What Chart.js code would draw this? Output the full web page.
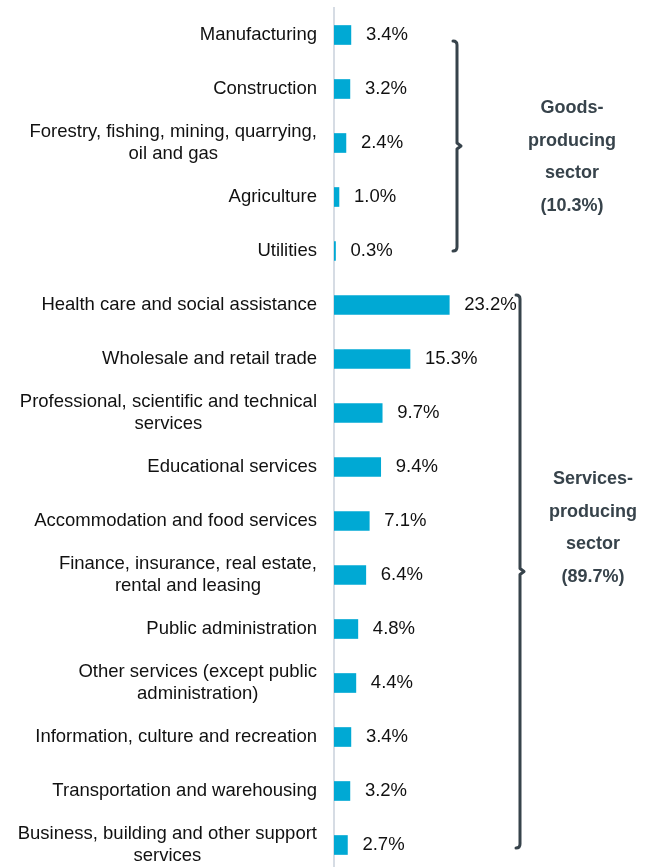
<!DOCTYPE html>
<html>
<head>
<meta charset="utf-8">
<script src="https://cdn.jsdelivr.net/npm/chart.js@4"></script>
<style>
  html, body { margin: 0; padding: 0; background: #ffffff; overflow: hidden; }
  #wrap { position: relative; width: 652px; height: 872px; }
</style>
</head>
<body>
<div id="wrap"><canvas id="chart"></canvas></div>
<script>
// Industry categories (multi-line names are split into their display lines)
const industries = [
  ['Manufacturing'],
  ['Construction'],
  ['Forestry, fishing, mining, quarrying,', 'oil and gas'],
  ['Agriculture'],
  ['Utilities'],
  ['Health care and social assistance'],
  ['Wholesale and retail trade'],
  ['Professional, scientific and technical', 'services'],
  ['Educational services'],
  ['Accommodation and food services'],
  ['Finance, insurance, real estate,', 'rental and leasing'],
  ['Public administration'],
  ['Other services (except public', 'administration)'],
  ['Information, culture and recreation'],
  ['Transportation and warehousing'],
  ['Business, building and other support', 'services']
];

// Share of employment, percent
const shares = [3.4, 3.2, 2.4, 1.0, 0.3, 23.2, 15.3, 9.7, 9.4, 7.1, 6.4, 4.8, 4.4, 3.4, 3.2, 2.7];

// Sector groupings: first and last category index, and the sector label
const sectorNames = [
  ['Goods-', 'producing', 'sector', '(10.3%)'],
  ['Services-', 'producing', 'sector', '(89.7%)']
];
const sectorFirst = [0, 5];
const sectorLast = [4, 15];

const FONT = '"Liberation Sans", Arial, Helvetica, sans-serif';
const BAR_COLOR = '#00A9D4';
const BRACKET_COLOR = '#37434B';

// Category names, right-aligned as a block beside the axis, lines centred within the block
const categoryLabels = {
  id: 'categoryLabels',
  afterDraw(chart) {
    const ctx = chart.ctx;
    const y = chart.scales.y;
    const right = chart.chartArea.left - 17;
    const lh = 22;
    ctx.save();
    ctx.font = '18.5px ' + FONT;
    ctx.fillStyle = '#111111';
    ctx.textAlign = 'center';
    ctx.textBaseline = 'middle';
    industries.forEach((lines, i) => {
      const cy = y.getPixelForValue(i);
      const w = Math.max(...lines.map(l => ctx.measureText(l).width));
      const cx = right - w / 2;
      const y0 = cy - (lines.length - 1) * lh / 2;
      lines.forEach((l, k) => ctx.fillText(l, cx, y0 + k * lh));
    });
    ctx.restore();
  }
};

// Percentage labels just past the end of each bar
const valueLabels = {
  id: 'valueLabels',
  afterDatasetsDraw(chart) {
    const ctx = chart.ctx;
    const meta = chart.getDatasetMeta(0);
    ctx.save();
    ctx.font = '18.5px ' + FONT;
    ctx.fillStyle = '#111111';
    ctx.textAlign = 'left';
    ctx.textBaseline = 'middle';
    meta.data.forEach((bar, i) => {
      ctx.fillText(shares[i].toFixed(1) + '%', bar.x + 15, bar.y);
    });
    ctx.restore();
  }
};

// Right-hand brackets grouping the goods and services sectors
const sectorBrackets = {
  id: 'sectorBrackets',
  afterDraw(chart, args, opts) {
    const ctx = chart.ctx;
    const y = chart.scales.y;
    ctx.save();
    opts.groups.forEach((g, gi) => {
      const top = y.getPixelForValue(sectorFirst[gi]) + g.topOffset;
      const bottom = y.getPixelForValue(sectorLast[gi]) + g.bottomOffset;
      const mid = (top + bottom) / 2;
      const x = g.x;
      ctx.strokeStyle = BRACKET_COLOR;
      ctx.lineWidth = 3;
      ctx.lineCap = 'round';
      ctx.lineJoin = 'round';
      ctx.beginPath();
      ctx.moveTo(x - 4, top);
      ctx.quadraticCurveTo(x, top, x, top + 4);
      ctx.lineTo(x, mid - 3);
      ctx.lineTo(x + 4, mid);
      ctx.lineTo(x, mid + 3);
      ctx.lineTo(x, bottom - 4);
      ctx.quadraticCurveTo(x, bottom, x - 4, bottom);
      ctx.stroke();

      ctx.font = 'bold 18px ' + FONT;
      ctx.fillStyle = BRACKET_COLOR;
      ctx.textAlign = 'center';
      ctx.textBaseline = 'middle';
      sectorNames[gi].forEach((l, k) => ctx.fillText(l, g.textX, g.textY + k * 32.7));
    });
    ctx.restore();
  }
};

new Chart(document.getElementById('chart'), {
  type: 'bar',
  data: {
    labels: industries.map(l => l.join(' ')),
    datasets: [{
      data: shares,
      backgroundColor: BAR_COLOR,
      borderWidth: 0,
      barThickness: 19
    }]
  },
  options: {
    indexAxis: 'y',
    responsive: true,
    maintainAspectRatio: false,
    animation: false,
    layout: { padding: { left: 334, right: 0, top: 8, bottom: 0 } },
    plugins: {
      legend: { display: false },
      tooltip: { enabled: false },
      sectorBrackets: {
        groups: [
          { x: 457, topOffset: 6, bottomOffset: 0, textX: 572, textY: 108 },
          { x: 520, topOffset: -10, bottomOffset: 3, textX: 593, textY: 479 }
        ]
      }
    },
    scales: {
      x: { display: false, min: 0, max: 64 },
      y: {
        grid: { display: false },
        ticks: { display: false },
        border: { display: true, color: '#D6DCE4', width: 2 },
        afterFit(s) { s.width = 0; }
      }
    }
  },
  plugins: [categoryLabels, valueLabels, sectorBrackets]
});
</script>
</body>
</html>
